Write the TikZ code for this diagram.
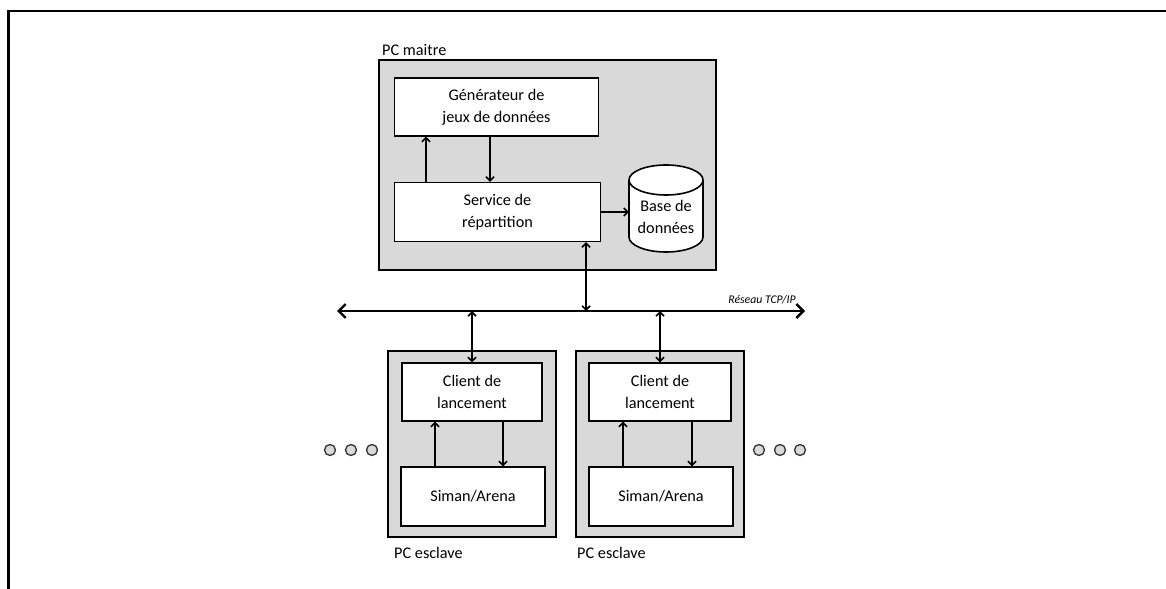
\documentclass[tikz,border=0pt]{standalone}
\usepackage{fontspec}
\setmainfont{Carlito}
\usetikzlibrary{arrows.meta}
\definecolor{boxgray}{HTML}{D9D9D9}
\begin{document}
\begin{tikzpicture}[x=1bp,y=-1bp,
  pcbox/.style={draw=black,fill=boxgray,line width=1.8bp},
  inbox/.style={draw=black,fill=white,line width=1.6bp,align=center,inner sep=0pt,
    font=\fontsize{16.3}{22}\selectfont},
  lab/.style={font=\fontsize{16.3}{22}\selectfont,inner sep=0pt},
  tip/.style={},
  arr/.style={line width=1.8bp,-{Straight Barb[length=4bp,width=8bp,line width=1.6bp]}},
  darr/.style={line width=1.8bp,{Straight Barb[length=4bp,width=8bp,line width=1.6bp]}-{Straight Barb[length=4bp,width=8bp,line width=1.6bp]}},
  netarr/.style={line width=2.8bp,{Straight Barb[length=7bp,width=14bp,line width=2.4bp]}-{Straight Barb[length=7bp,width=14bp,line width=2.4bp]}},
  dot/.style={draw=black!80,fill=boxgray,line width=1.3bp}]
\useasboundingbox (0,0) rectangle (1166,589);
% frame
\draw[line width=2.8bp] (8.5,589) -- (8.5,11) -- (1166,11);

% master PC
\node[pcbox,minimum width=339,minimum height=210,inner sep=0] (master) at (547.5,165) {};
\node[lab,anchor=west] (mlab) at (382,50) {PC maitre};
\node[inbox,minimum width=205,minimum height=58] (gen) at (496.5,107) {Générateur de\\jeux de données};
\node[inbox,minimum width=207,minimum height=59] (svc) at (497.5,212) {Service de\\répartition};
% database cylinder
\node[inner sep=0,minimum width=74,minimum height=87] (db) at (666,208.5) {};
\draw[fill=white,line width=1.6bp] (629,180) -- (629,237) arc[start angle=180,end angle=0,x radius=37,y radius=15] -- (703,180);
\draw[fill=white,line width=1.6bp] (666,180) ellipse[x radius=37,y radius=15];
\node[lab,align=center] (dbt) at (666,217) {Base de\\données};

\coordinate (xa) at (426,0);
\coordinate (xb) at (490,0);
\coordinate (xc) at (586,0);
\draw[arr] (svc.north -| xa) -- (gen.south -| xa);
\draw[arr] (gen.south -| xb) -- (svc.north -| xb);
\draw[arr] (svc.east) -- (svc.east -| db.west);

% network
\coordinate (netL) at (337,311);
\coordinate (netR) at (805,311);
\draw[netarr] (netL) -- (netR);
\node[inner sep=0,font=\fontsize{11.8}{13}\selectfont\itshape] (netlab) at (762,300) {Réseau TCP/IP};
\draw[darr] (svc.south -| xc) -- (netL -| xc);

% slave 1
\node[pcbox,minimum width=168,minimum height=186,inner sep=0] (s1) at (472,444) {};
\node[inbox,minimum width=141,minimum height=58] (c1) at (472,392) {Client de\\lancement};
\node[inbox,minimum width=144,minimum height=59] (a1) at (473,496.5) {Siman/Arena};
\node[lab,anchor=west] (s1lab) at (394,553) {PC esclave};
\draw[darr] (netL -| c1.north) -- (c1.north);
\coordinate (u1) at (435,0);
\coordinate (d1) at (503,0);
\draw[arr] (a1.north -| u1) -- (c1.south -| u1);
\draw[arr] (c1.south -| d1) -- (a1.north -| d1);

% slave 2
\node[pcbox,minimum width=168,minimum height=186,inner sep=0] (s2) at (660,444) {};
\node[inbox,minimum width=142,minimum height=58] (c2) at (660,392) {Client de\\lancement};
\node[inbox,minimum width=144,minimum height=59] (a2) at (661,496.5) {Siman/Arena};
\node[lab,anchor=west] (s2lab) at (577,553) {PC esclave};
\draw[darr] (netL -| c2.north) -- (c2.north);
\coordinate (u2) at (623,0);
\coordinate (d2) at (692,0);
\draw[arr] (a2.north -| u2) -- (c2.south -| u2);
\draw[arr] (c2.south -| d2) -- (a2.north -| d2);

% dots
\foreach \i/\x in {1/330,2/351,3/372}{\draw[dot] (\x,450) circle[radius=5.5];}
\foreach \i/\x in {1/759,2/780,3/800}{\draw[dot] (\x,450) circle[radius=5.5];}
\end{tikzpicture}
\end{document}
